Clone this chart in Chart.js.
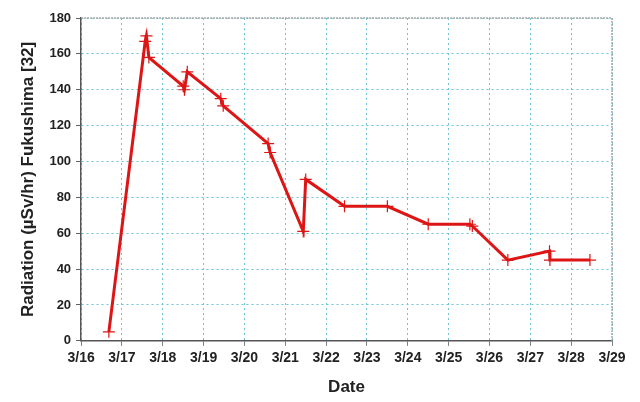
<!DOCTYPE html>
<html>
<head>
<meta charset="utf-8">
<script src="https://cdn.jsdelivr.net/npm/chart.js@4"></script>
<style>
    body { margin: 0; background: #fff; }
    #wrap { width: 640px; height: 402px; }
</style>
</head>
<body>
<div id="wrap"><canvas id="myChart" width="640" height="402"></canvas></div>
<script>
// day of March (fractional) and radiation reading
let days = [16.68, 17.57, 17.6, 17.66, 18.5, 18.53, 18.6, 19.42, 19.48, 20.58, 20.63, 21.44, 21.5, 22.45, 23.5, 24.5, 25.52, 25.58, 26.45, 27.47, 27.48, 28.46];
let radiation = [5, 167, 170, 158, 142, 140, 150, 135, 131, 110, 105, 61, 90, 75, 75, 65, 65, 64, 45, 50, 45, 45];
let dateTicks = [16, 17, 18, 19, 20, 21, 22, 23, 24, 25, 26, 27, 28, 29];
let yTicks = [0, 20, 40, 60, 80, 100, 120, 140, 160, 180];

const gridBlue = '#6cc4d6';
const axisGrey = '#555555';


function getPoints() {
    return days.map((d, i) => ({ x: d, y: radiation[i] }));
}


// light grey dotted frame on the top and right of the plot
const frame = {
    id: 'frame',
    afterDraw(chart) {
        const a = chart.chartArea;
        const ctx = chart.ctx;
        ctx.save();
        ctx.strokeStyle = '#a8a8a8';
        ctx.lineWidth = 1.5;
        ctx.setLineDash([2, 1]);
        ctx.beginPath();
        ctx.moveTo(a.left, a.top);
        ctx.lineTo(a.right, a.top);
        ctx.lineTo(a.right, a.bottom);
        ctx.stroke();
        ctx.restore();
    }
};


function createChart() {
    const ctx = document.getElementById('myChart').getContext('2d');
    new Chart(ctx, {
        type: 'line',
        data: {
            datasets: [{
                data: getPoints(),
                borderColor: '#dd1515',
                borderWidth: 3,
                pointStyle: 'cross',
                pointRadius: 6,
                pointBorderWidth: 1.2,
                pointBorderColor: '#dd1515',
                pointBackgroundColor: '#dd1515',
                tension: 0
            }]
        },
        options: {
            responsive: false,
            animation: false,
            layout: { padding: { left: 14, right: 28, top: 18, bottom: 0 } },
            plugins: { legend: { display: false }, tooltip: { enabled: false } },
            scales: {
                x: {
                    type: 'linear',
                    min: 16,
                    max: 29,
                    afterBuildTicks: axis => { axis.ticks = dateTicks.map(v => ({ value: v })); },
                    ticks: {
                        callback: v => '3/' + v,
                        color: '#222',
                        font: { family: 'Liberation Sans, Arial', size: 14, weight: 'bold' },
                        maxRotation: 0,
                        padding: 4
                    },
                    grid: {
                        color: gridBlue,
                        lineWidth: 1,
                        tickLength: 5,
                        tickColor: axisGrey,
                        tickBorderDash: [1, 0]
                    },
                    border: { color: axisGrey, width: 1.5, dash: [2, 3] },
                    title: {
                        display: true,
                        text: 'Date',
                        color: '#222',
                        font: { family: 'Liberation Sans, Arial', size: 17, weight: 'bold' },
                        padding: { top: 7 }
                    }
                },
                y: {
                    min: 0,
                    max: 180,
                    afterBuildTicks: axis => { axis.ticks = yTicks.map(v => ({ value: v })); },
                    ticks: {
                        color: '#222',
                        font: { family: 'Liberation Sans, Arial', size: 13, weight: 'bold' },
                        padding: 5
                    },
                    grid: {
                        color: gridBlue,
                        lineWidth: 1,
                        tickLength: 5,
                        tickColor: axisGrey,
                        tickBorderDash: [1, 0]
                    },
                    border: { color: axisGrey, width: 1.5, dash: [2, 3] },
                    title: {
                        display: true,
                        text: 'Radiation (µSv/hr) Fukushima [32]',
                        color: '#222',
                        font: { family: 'Liberation Sans, Arial', size: 17, weight: 'bold' },
                        padding: { bottom: 6 }
                    }
                }
            }
        },
        plugins: [frame]
    });
}

createChart();
</script>
</body>
</html>
